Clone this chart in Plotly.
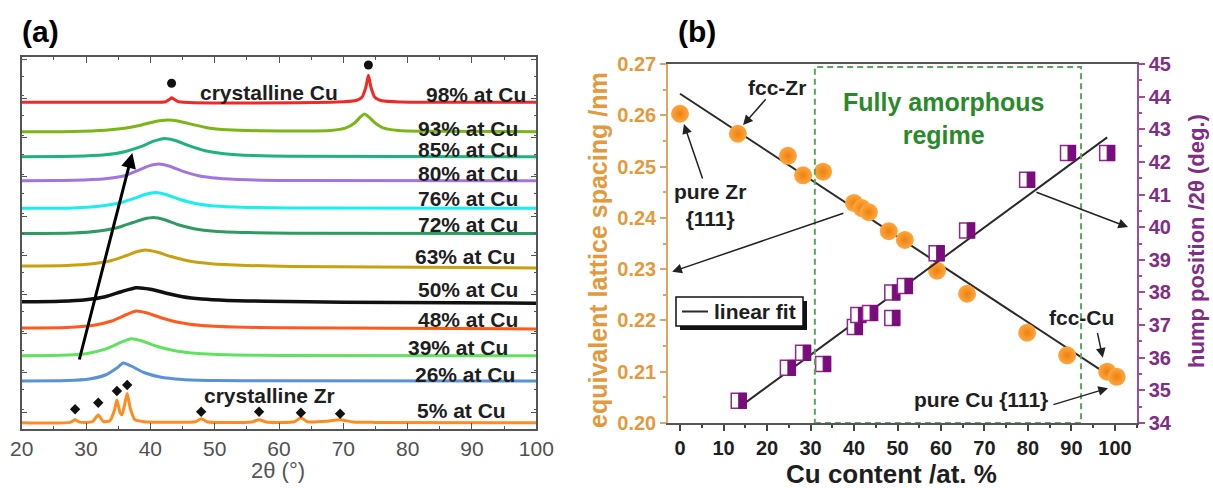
import plotly.graph_objects as go

FONT = "Arial, 'Liberation Sans', sans-serif"
W, H = 1213, 488

# ---------------- (a) XRD patterns: (2theta, intensity above baseline) ----------------
pat_98 = [(20, 0), (40, 0), (42.4, 0.6), (43.0, 3), (43.3, 4.5), (43.7, 3), (44.4, 0.6), (69, 0.3),
          (71.8, 1.5), (72.9, 5), (73.5, 15), (73.9, 27), (74.3, 15), (74.9, 5), (76, 1.5), (79, 0.3), (100, 0)]
pat_93 = [(20, 0), (28, 0.3), (33, 1.5), (36, 3.5), (38.5, 6.5), (40.8, 10.2), (42.7, 11.7), (44.6, 10.3),
          (46.8, 6.8), (49, 3.8), (52, 2), (57, 1), (64, 0.8), (68, 1.3), (70.3, 3.5), (71.8, 9), (72.7, 15),
          (73.3, 17.7), (73.9, 15), (74.9, 9), (76.3, 3.5), (78.5, 1.2), (83, 0.4), (100, 0)]
pat_85 = [(20, 0), (28, 0.4), (33, 2), (36, 5), (38.5, 10), (40.5, 15.5), (42.2, 18.3), (44, 16), (46, 11),
          (48.5, 6), (51.5, 3), (56, 1.2), (63, 0.4), (100, 0)]
pat_80 = [(20, 0), (28, 0.4), (33, 2), (36, 5), (38, 10), (39.8, 14.8), (41.3, 16.7), (43, 14.5), (45, 9.5),
          (47.5, 5), (50.5, 2.5), (55, 1), (62, 0.3), (100, 0)]
pat_76 = [(20, 0), (28, 0.4), (32, 2), (35, 5), (37.5, 10), (39.3, 14), (40.8, 15.7), (42.5, 13.5), (44.5, 9),
          (47, 4.8), (50, 2.3), (55, 0.9), (62, 0.3), (100, 0)]
pat_72 = [(20, 0), (28, 0.5), (32, 2.5), (35, 6), (37.3, 11), (39, 14.5), (40.5, 16), (42.2, 13.8), (44.2, 9),
          (46.8, 4.8), (50, 2.2), (55, 0.9), (62, 0.3), (100, 0)]
pat_63 = [(20, 0), (27, 0.5), (31, 2.2), (34, 5.5), (36.3, 10.5), (38, 14.5), (39.2, 16), (41, 14), (43.2, 9.5),
          (46, 5), (49.5, 2.3), (55, 0.6), (62, -0.5), (100, -2)]
pat_50 = [(20, 0), (26, 0.5), (30, 2), (33, 5), (35.5, 10), (37.8, 14), (40, 12.5), (42.5, 8.5), (45, 5),
          (48, 2.7), (52, 1.3), (58, 0.4), (70, -0.5), (100, -1.5)]
pat_48 = [(20, 0), (27, 0.5), (31, 2.5), (34, 7), (36.3, 13.5), (37.8, 17), (39.5, 15), (41.8, 10), (44.5, 5.5),
          (48, 2.5), (53, 1), (60, 0.3), (100, -1)]
pat_39 = [(20, 0), (26, 0.4), (30, 2), (33, 6.5), (35.5, 13.5), (37, 17), (38.6, 15), (41, 9.5), (43.8, 5),
          (47.5, 2.2), (53, 0.8), (60, 0.3), (100, 0)]
pat_26 = [(20, 0), (27, 0.4), (30.5, 2), (33, 6), (34.8, 13), (35.8, 18), (37, 15), (39, 8.5), (41.5, 4),
          (45, 1.5), (50, 0.5), (58, 0.2), (100, 0)]
pat_5 = [(20, 0), (27.5, 0.3), (28.3, 3), (29, 0.6), (31, 1), (31.9, 7.7), (32.7, 1.2), (33.7, 2), (34.4, 12),
         (34.8, 22.7), (35.3, 10), (35.6, 8), (36.0, 18), (36.4, 29.3), (36.9, 14), (37.6, 3), (39, 1),
         (44, 0.4), (47, 1), (47.9, 4), (48.8, 1), (55.8, 0.8), (56.9, 3), (58, 0.8), (62.4, 1), (63.4, 5),
         (64.4, 1), (67.5, 1.5), (69.5, 3), (71.5, 0.8), (75, 0.3), (100, 0)]

patterns = [pat_98, pat_93, pat_85, pat_80, pat_76, pat_72, pat_63, pat_50, pat_48, pat_39, pat_26, pat_5]
sample_labels = ["98% at Cu", "93% at Cu", "85% at Cu", "80% at Cu", "76% at Cu", "72% at Cu",
                 "63% at Cu", "50% at Cu", "48% at Cu", "39% at Cu", "26% at Cu", "5% at Cu"]
baselines = [326.7, 297.3, 272.3, 248.3, 220.7, 195.5, 163.0, 127.3, 101.0, 73.3, 48.0, 6.3]
label_y = [335, 301, 280, 256, 231, 205, 173, 140, 110, 82, 55, 19]
label_x = [98.7, 97.45, 97.45, 97.45, 97.45, 97.45, 97.0, 97.45, 97.45, 95.9, 97.0, 95.6]
pattern_colors = ["#EE2A24", "#7CB518", "#1FB27E", "#A274DE", "#19EEF0", "#2E9B62",
                  "#C8A010", "#111111", "#FF5A1E", "#5FE35F", "#5A92D6", "#FF8C1F"]

# reflections marked above the crystalline patterns
cu_ref_tt = [43.3, 73.9]
cu_ref_y = [345.7, 364.0]
zr_ref_tt = [28.3, 31.9, 34.8, 36.4, 47.9, 56.9, 63.4, 69.5]
zr_ref_y = [19.7, 26.3, 38.0, 44.0, 17.3, 17.3, 16.3, 15.3]

# ---------------- (b) lattice spacing and hump position ----------------
cu_d = [0, 13.3, 24.8, 28.3, 32.9, 40.0, 41.8, 43.4, 48.0, 51.7, 59.1, 66.0, 79.8, 89.0, 98.2, 100.4]
d_spacing = [0.2603, 0.2564, 0.2521, 0.2483, 0.2490, 0.2429, 0.2419, 0.2411, 0.2374, 0.2357,
             0.2297, 0.2252, 0.2176, 0.2132, 0.2100, 0.2090]
cu_h = [13.5, 24.8, 28.3, 32.9, 40.2, 41.0, 43.7, 48.8, 48.8, 51.7, 59.0, 66.0, 79.8, 89.2, 98.2]
hump_pos = [34.68, 35.69, 36.15, 35.81, 36.94, 37.31, 37.37, 37.22, 38.00, 38.20, 39.20, 39.90,
            41.45, 42.27, 42.27]
fit_d_x = [0, 100]
fit_d_y = [0.2642, 0.2085]
fit_h_x = [13.8, 98.2]
fit_h_y = [34.50, 42.75]
amorphous_range = [31.0, 92.2]


def px(x):
    return x / W


def py(y):
    return (H - y) / H


fig = go.Figure()

for pat, col, base in zip(patterns, pattern_colors, baselines):
    fig.add_trace(go.Scatter(
        x=[p[0] for p in pat], y=[p[1] + base for p in pat], mode="lines",
        line=dict(color=col, width=3.5 if col == "#111111" else 3, shape="spline", smoothing=0.6),
        xaxis="x", yaxis="y", showlegend=False, hoverinfo="skip"))

fig.add_trace(go.Scatter(x=cu_ref_tt, y=cu_ref_y, mode="markers", xaxis="x", yaxis="y",
                         marker=dict(symbol="circle", size=9, color="#111"), showlegend=False))
fig.add_trace(go.Scatter(x=zr_ref_tt, y=zr_ref_y, mode="markers", xaxis="x", yaxis="y",
                         marker=dict(symbol="diamond", size=8, color="#111"), showlegend=False))

# panel (b) traces
fig.add_trace(go.Scatter(x=fit_d_x, y=fit_d_y, mode="lines", xaxis="x2", yaxis="y2",
                         line=dict(color="#2a2a2a", width=2), name="linear fit", showlegend=False))
fig.add_trace(go.Scatter(x=fit_h_x, y=fit_h_y, mode="lines", xaxis="x2", yaxis="y3",
                         line=dict(color="#2a2a2a", width=2), showlegend=False))
fig.add_trace(go.Scatter(x=cu_d, y=d_spacing, mode="markers", xaxis="x2", yaxis="y2", showlegend=False,
                         marker=dict(size=18, color="#FFA63F",
                                     gradient=dict(type="radial", color="#EC820E"),
                                     line=dict(width=0))))

shapes = []
# half-filled square markers, sized from the axis scales
sq_hw = 1.72
sq_hh = 0.23
for cx, cy in zip(cu_h, hump_pos):
    shapes.append(dict(type="rect", xref="x2", yref="y3", x0=cx - sq_hw, x1=cx + sq_hw,
                       y0=cy - sq_hh, y1=cy + sq_hh, fillcolor="white",
                       line=dict(color="#8E2A8E", width=1.5), layer="above"))
    shapes.append(dict(type="rect", xref="x2", yref="y3", x0=cx, x1=cx + sq_hw,
                       y0=cy - sq_hh, y1=cy + sq_hh, fillcolor="#7A0C7E",
                       line=dict(color="#7A0C7E", width=1), layer="above"))

# fully amorphous regime
shapes.append(dict(type="rect", xref="x2", yref="y2", x0=amorphous_range[0], x1=amorphous_range[1],
                   y0=0.2, y1=0.2694, line=dict(color="#5AA55A", width=2, dash="6px,4px"),
                   fillcolor="rgba(0,0,0,0)", layer="above"))
# key box for the fit line, with drop shadow
shapes += [
    dict(type="rect", xref="paper", yref="paper", x0=px(680), x1=px(807), y0=py(330), y1=py(301),
         fillcolor="#111", line=dict(width=0), layer="above"),
    dict(type="rect", xref="paper", yref="paper", x0=px(676), x1=px(803), y0=py(326), y1=py(297),
         fillcolor="white", line=dict(color="#111", width=1.5), layer="above"),
    dict(type="line", xref="paper", yref="paper", x0=px(682), x1=px(708), y0=py(311.5), y1=py(311.5),
         line=dict(color="#2a2a2a", width=2), layer="above"),
]

ann = []
for txt, lx, ly in zip(sample_labels, label_x, label_y):
    ann.append(dict(x=lx, y=ly, xref="x", yref="y", text=txt, showarrow=False, xanchor="right",
                    yanchor="middle", font=dict(family=FONT, size=21, color="#1e1e1e", weight="bold")))
ann.append(dict(x=58.5, y=337, xref="x", yref="y", text="crystalline Cu", showarrow=False,
                font=dict(family=FONT, size=21, color="#1e1e1e", weight="bold")))
ann.append(dict(x=58.5, y=34, xref="x", yref="y", text="crystalline Zr", showarrow=False,
                font=dict(family=FONT, size=21, color="#1e1e1e", weight="bold")))
ann.append(dict(x=37.2, y=276, ax=28.9, ay=68, xref="x", yref="y", axref="x", ayref="y", text="",
                showarrow=True, arrowhead=2, arrowsize=1, arrowwidth=3, arrowcolor="#000"))

bfont = dict(family=FONT, size=21, color="#1e1e1e", weight="bold")
ann += [
    dict(x=22.3, y=0.2655, xref="x2", yref="y2", text="fcc-Zr", showarrow=False, font=bfont),
    dict(x=14.5, y=0.2581, ax=20.0, ay=0.2634, xref="x2", yref="y2", axref="x2", ayref="y2", text="",
         showarrow=True, arrowhead=2, arrowsize=1.3, arrowwidth=1.5, arrowcolor="#222"),
    dict(x=6.9, y=0.2425, xref="x2", yref="y2", text="pure Zr<br>{111}", showarrow=False, font=bfont),
    dict(x=0.9, y=0.2583, ax=5.3, ay=0.2474, xref="x2", yref="y2", axref="x2", ayref="y2", text="",
         showarrow=True, arrowhead=2, arrowsize=1.3, arrowwidth=1.5, arrowcolor="#222"),
    dict(x=-1.8, y=0.2295, ax=37.9, ay=0.2410, xref="x2", yref="y2", axref="x2", ayref="y2", text="",
         showarrow=True, arrowhead=2, arrowsize=1.3, arrowwidth=1.5, arrowcolor="#222"),
    dict(x=103.0, y=0.2382, ax=81.6, ay=0.2451, xref="x2", yref="y2", axref="x2", ayref="y2", text="",
         showarrow=True, arrowhead=2, arrowsize=1.3, arrowwidth=1.5, arrowcolor="#222"),
    dict(x=92.4, y=0.2205, xref="x2", yref="y2", text="fcc-Cu", showarrow=False, font=bfont),
    dict(x=97.2, y=0.2127, ax=95.9, ay=0.2178, xref="x2", yref="y2", axref="x2", ayref="y2", text="",
         showarrow=True, arrowhead=2, arrowsize=1.3, arrowwidth=1.5, arrowcolor="#222"),
    dict(x=69.2, y=0.2045, xref="x2", yref="y2", text="pure Cu {111}", showarrow=False, font=bfont),
    dict(x=98.4, y=0.2068, ax=85.5, ay=0.2035, xref="x2", yref="y2", axref="x2", ayref="y2", text="",
         showarrow=True, arrowhead=2, arrowsize=1.3, arrowwidth=1.5, arrowcolor="#222"),
    dict(x=60.5, y=0.2593, xref="x2", yref="y2", text="Fully amorphous<br>regime", showarrow=False,
         font=dict(family=FONT, size=25, color="#2A8A2A", weight="bold")),
]


def paper_text(x, y, text, font, angle=0, xanchor="center"):
    return dict(x=px(x), y=py(y), xref="paper", yref="paper", text=text, showarrow=False,
                xanchor=xanchor, yanchor="middle", textangle=angle, font=font)


# panel tags, axis titles and key label
ann += [
    paper_text(40, 32, "(a)", dict(family=FONT, size=30, color="#000", weight="bold")),
    paper_text(697, 32, "(b)", dict(family=FONT, size=30, color="#000", weight="bold")),
    paper_text(278, 470, "2θ (°)", dict(family=FONT, size=22, color="#555")),
    paper_text(891, 474, "Cu content /at. %", dict(family=FONT, size=26, color="#1e1e1e", weight="bold")),
    paper_text(598, 250, "equivalent lattice spacing /nm",
               dict(family=FONT, size=25, color="#E49A3C", weight="bold"), angle=-90),
    paper_text(1197, 241, "hump position /2θ (deg.)",
               dict(family=FONT, size=22, color="#7F2D86", weight="bold"), angle=-90),
    paper_text(712, 311.5, "linear fit", bfont, xanchor="left"),
]

fig.update_layout(
    template="none",
    width=W, height=H, autosize=False,
    margin=dict(l=0, r=0, t=0, b=0, pad=0, autoexpand=False),
    paper_bgcolor="white", plot_bgcolor="white",
    font=dict(family=FONT),
    showlegend=False,
    shapes=shapes, annotations=ann,
    xaxis=dict(domain=[px(21.7), px(536.3)], range=[20, 100], anchor="y", automargin=False,
               tickvals=[20, 30, 40, 50, 60, 70, 80, 90, 100], ticks="inside", ticklen=6, tickwidth=1.2,
               tickcolor="#555", showline=True, linecolor="#555", linewidth=1.5, mirror="ticks",
               minor=dict(dtick=5, ticks="inside", ticklen=3, tickcolor="#555"),
               tickfont=dict(family=FONT, size=21, color="#505050"), showgrid=False, zeroline=False),
    yaxis=dict(domain=[py(429), py(57)], range=[0, 372], anchor="x", automargin=False,
               showticklabels=False, ticks="inside", ticklen=6, tickwidth=1.2, tickcolor="#555",
               tick0=17, dtick=39.2, minor=dict(dtick=19.6, ticks="inside", ticklen=3, tickcolor="#555"),
               showline=True, linecolor="#555", linewidth=1.5, mirror="ticks",
               showgrid=False, zeroline=False),
    xaxis2=dict(domain=[px(668), px(1137)], range=[-2.76, 105.06], anchor="y2", automargin=False,
                tickvals=[0, 10, 20, 30, 40, 50, 60, 70, 80, 90, 100], ticks="outside", ticklen=6,
                tickwidth=1.5, tickcolor="#444", showline=True, linecolor="#555", linewidth=1.5, mirror=True,
                minor=dict(dtick=5, ticks="outside", ticklen=3, tickcolor="#444"),
                tickfont=dict(family=FONT, size=20, color="#1e1e1e", weight="bold"),
                showgrid=False, zeroline=False),
    yaxis2=dict(domain=[py(423), py(64)], range=[0.20, 0.27], anchor="x2", automargin=False,
                dtick=0.01, tickformat=".2f", ticks="outside", ticklen=6, tickwidth=1.5, tickcolor="#DDA664",
                minor=dict(dtick=0.005, ticks="outside", ticklen=3, tickcolor="#DDA664"),
                showline=True, linecolor="#DDA664", linewidth=1.5,
                tickfont=dict(family=FONT, size=20, color="#E49A3C", weight="bold"),
                showgrid=False, zeroline=False),
    yaxis3=dict(range=[34, 45], overlaying="y2", side="right", anchor="x2", dtick=1, automargin=False,
                ticks="outside", ticklen=6, tickwidth=1.5, tickcolor="#9C4E9C",
                minor=dict(dtick=0.5, ticks="outside", ticklen=3, tickcolor="#9C4E9C"),
                showline=True, linecolor="#9C4E9C", linewidth=1.5,
                tickfont=dict(family=FONT, size=20, color="#7F2D86", weight="bold"),
                showgrid=False, zeroline=False),
)

fig.write_html("out.html")
